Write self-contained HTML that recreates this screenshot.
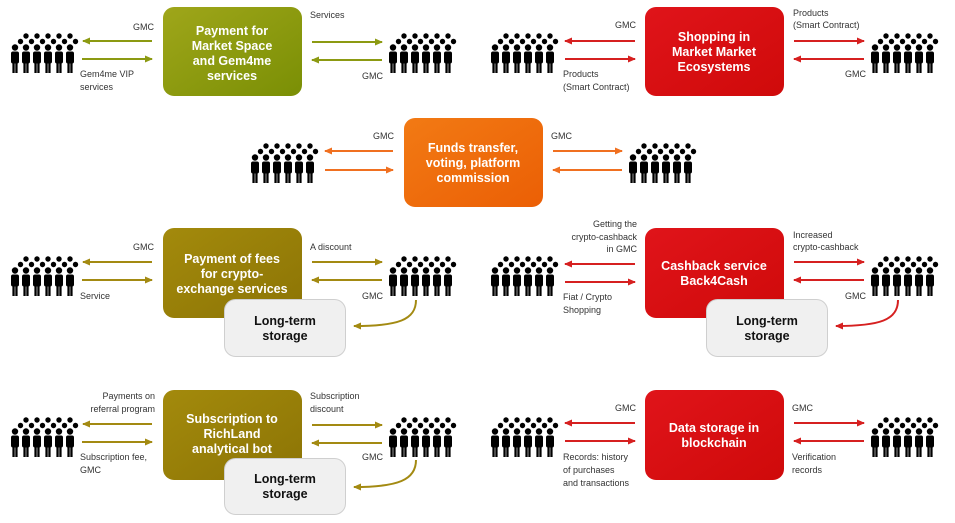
<!DOCTYPE html>
<html><head><meta charset="utf-8"><style>
html,body{margin:0;padding:0;background:#fff}
svg{display:block}
.t{font-family:"Liberation Sans",sans-serif;font-size:9px;fill:#333}
.b{font-family:"Liberation Sans",sans-serif;font-size:12.5px;font-weight:bold;fill:#fff;text-anchor:middle}
.s{font-family:"Liberation Sans",sans-serif;font-size:12.5px;font-weight:bold;fill:#111;text-anchor:middle}
</style></head><body>
<svg width="955" height="523" viewBox="0 0 955 523" xmlns="http://www.w3.org/2000/svg">
<defs>
<g id="p">
<g fill="#000">
<circle cx="16" cy="3" r="2.7"/><circle cx="27" cy="3" r="2.7"/><circle cx="38" cy="3" r="2.7"/><circle cx="49" cy="3" r="2.7"/><circle cx="60" cy="3" r="2.7"/>
<circle cx="10.5" cy="8.5" r="2.7"/><circle cx="21.5" cy="8.5" r="2.7"/><circle cx="32.5" cy="8.5" r="2.7"/><circle cx="43.5" cy="8.5" r="2.7"/><circle cx="54.5" cy="8.5" r="2.7"/><circle cx="65.5" cy="8.5" r="2.7"/>
</g>
<g id="m" fill="#000"><circle cx="5" cy="14.5" r="3.2"/><rect x="1" y="18.5" width="8" height="12" rx="2"/><rect x="2.4" y="29" width="2.3" height="11"/><rect x="5.3" y="29" width="2.3" height="11"/></g>
<use href="#m" x="11"/><use href="#m" x="22"/><use href="#m" x="33"/><use href="#m" x="44"/><use href="#m" x="55"/>
</g>
<linearGradient id="ol" x1="0" y1="0" x2="1" y2="1"><stop offset="0" stop-color="#9fa61a"/><stop offset="1" stop-color="#7a8f05"/></linearGradient>
<linearGradient id="go" x1="0" y1="0" x2="1" y2="1"><stop offset="0" stop-color="#a38a0c"/><stop offset="1" stop-color="#8c7405"/></linearGradient>
<linearGradient id="rd" x1="0" y1="0" x2="1" y2="1"><stop offset="0" stop-color="#e0141a"/><stop offset="1" stop-color="#cf0a0a"/></linearGradient>
<linearGradient id="or" x1="0" y1="0" x2="1" y2="1"><stop offset="0" stop-color="#f27a14"/><stop offset="1" stop-color="#eb5f05"/></linearGradient>
<marker id="aO" markerWidth="8" markerHeight="8" refX="7" refY="4" orient="auto" markerUnits="userSpaceOnUse"><path d="M0,0.5 L8,4 L0,7.5z" fill="#8c9a12"/></marker>
<marker id="aG" markerWidth="8" markerHeight="8" refX="7" refY="4" orient="auto" markerUnits="userSpaceOnUse"><path d="M0,0.5 L8,4 L0,7.5z" fill="#a38a12"/></marker>
<marker id="aR" markerWidth="8" markerHeight="8" refX="7" refY="4" orient="auto" markerUnits="userSpaceOnUse"><path d="M0,0.5 L8,4 L0,7.5z" fill="#d62020"/></marker>
<marker id="aY" markerWidth="8" markerHeight="8" refX="7" refY="4" orient="auto" markerUnits="userSpaceOnUse"><path d="M0,0.5 L8,4 L0,7.5z" fill="#f07020"/></marker>
</defs>

<!-- people -->
<use href="#p" x="10" y="33"/><use href="#p" x="388" y="33"/>
<use href="#p" x="490" y="33"/><use href="#p" x="870" y="33"/>
<use href="#p" x="250" y="143"/><use href="#p" x="628" y="143"/>
<use href="#p" x="10" y="256"/><use href="#p" x="388" y="256"/>
<use href="#p" x="490" y="256"/><use href="#p" x="870" y="256"/>
<use href="#p" x="10" y="417"/><use href="#p" x="388" y="417"/>
<use href="#p" x="490" y="417"/><use href="#p" x="870" y="417"/>

<!-- arrows -->
<g stroke-width="2" fill="none">
<g stroke="#8c9a12" marker-end="url(#aO)">
<line x1="152" y1="41" x2="83" y2="41"/><line x1="82" y1="59" x2="152" y2="59"/>
<line x1="312" y1="42" x2="382" y2="42"/><line x1="382" y1="60" x2="312" y2="60"/>
</g>
<g stroke="#d62020" marker-end="url(#aR)">
<line x1="635" y1="41" x2="565" y2="41"/><line x1="565" y1="59" x2="635" y2="59"/>
<line x1="794" y1="41" x2="864" y2="41"/><line x1="864" y1="59" x2="794" y2="59"/>
<line x1="635" y1="264" x2="565" y2="264"/><line x1="565" y1="282" x2="635" y2="282"/>
<line x1="794" y1="262" x2="864" y2="262"/><line x1="864" y1="280" x2="794" y2="280"/>
<path d="M898,300 C898,320 880,326 836,326"/>
<line x1="635" y1="423" x2="565" y2="423"/><line x1="565" y1="441" x2="635" y2="441"/>
<line x1="794" y1="423" x2="864" y2="423"/><line x1="864" y1="441" x2="794" y2="441"/>
</g>
<g stroke="#f07020" marker-end="url(#aY)">
<line x1="393" y1="151" x2="325" y2="151"/><line x1="325" y1="170" x2="393" y2="170"/>
<line x1="553" y1="151" x2="622" y2="151"/><line x1="622" y1="170" x2="553" y2="170"/>
</g>
<g stroke="#a38a12" marker-end="url(#aG)">
<line x1="152" y1="262" x2="83" y2="262"/><line x1="82" y1="280" x2="152" y2="280"/>
<line x1="312" y1="262" x2="382" y2="262"/><line x1="382" y1="280" x2="312" y2="280"/>
<path d="M416,300 C416,320 398,326 354,326"/>
<line x1="152" y1="424" x2="83" y2="424"/><line x1="82" y1="442" x2="152" y2="442"/>
<line x1="312" y1="425" x2="382" y2="425"/><line x1="382" y1="443" x2="312" y2="443"/>
<path d="M416,460 C416,480 398,487 354,487"/>
</g>
</g>

<!-- boxes -->
<rect x="163" y="7" width="139" height="89" rx="11" fill="url(#ol)"/>
<text class="b" y="35"><tspan x="232">Payment for</tspan><tspan x="232" dy="15">Market Space</tspan><tspan x="232" dy="15">and Gem4me</tspan><tspan x="232" dy="15">services</tspan></text>
<rect x="645" y="7" width="139" height="89" rx="11" fill="url(#rd)"/>
<text class="b" y="41"><tspan x="714">Shopping in</tspan><tspan x="714" dy="15">Market Market</tspan><tspan x="714" dy="15">Ecosystems</tspan></text>
<rect x="404" y="118" width="139" height="89" rx="11" fill="url(#or)"/>
<text class="b" y="152"><tspan x="473">Funds transfer,</tspan><tspan x="473" dy="15">voting, platform</tspan><tspan x="473" dy="15">commission</tspan></text>

<rect x="163" y="228" width="139" height="90" rx="11" fill="url(#go)"/>
<text class="b" y="263"><tspan x="232">Payment of fees</tspan><tspan x="232" dy="15">for crypto-</tspan><tspan x="232" dy="15">exchange services</tspan></text>
<rect x="224.5" y="299.5" width="121" height="57" rx="11" fill="#f0f0f0" stroke="#cfcfcf"/>
<text class="s" y="325"><tspan x="285">Long-term</tspan><tspan x="285" dy="15">storage</tspan></text>

<rect x="645" y="228" width="139" height="90" rx="11" fill="url(#rd)"/>
<text class="b" y="270"><tspan x="714">Cashback service</tspan><tspan x="714" dy="15">Back4Cash</tspan></text>
<rect x="706.5" y="299.5" width="121" height="57" rx="11" fill="#f0f0f0" stroke="#cfcfcf"/>
<text class="s" y="325"><tspan x="767">Long-term</tspan><tspan x="767" dy="15">storage</tspan></text>

<rect x="163" y="390" width="139" height="90" rx="11" fill="url(#go)"/>
<text class="b" y="423"><tspan x="232">Subscription to</tspan><tspan x="232" dy="15">RichLand</tspan><tspan x="232" dy="15">analytical bot</tspan></text>
<rect x="224.5" y="458.5" width="121" height="56" rx="11" fill="#f0f0f0" stroke="#cfcfcf"/>
<text class="s" y="483"><tspan x="285">Long-term</tspan><tspan x="285" dy="15">storage</tspan></text>

<rect x="645" y="390" width="139" height="90" rx="11" fill="url(#rd)"/>
<text class="b" y="432"><tspan x="714">Data storage in</tspan><tspan x="714" dy="15">blockchain</tspan></text>

<!-- labels -->
<g class="t">
<text x="133" y="30">GMC</text>
<text x="80" y="77">Gem4me VIP</text><text x="80" y="90">services</text>
<text x="310" y="18">Services</text>
<text x="362" y="79">GMC</text>
<text x="615" y="28">GMC</text>
<text x="563" y="77">Products</text><text x="563" y="90">(Smart Contract)</text>
<text x="793" y="16">Products</text><text x="793" y="28">(Smart Contract)</text>
<text x="845" y="77">GMC</text>
<text x="373" y="139">GMC</text>
<text x="551" y="139">GMC</text>
<text x="133" y="250">GMC</text>
<text x="80" y="299">Service</text>
<text x="310" y="250">A discount</text>
<text x="362" y="299">GMC</text>
<g text-anchor="end"><text x="637" y="227">Getting the</text><text x="637" y="240">crypto-cashback</text><text x="637" y="252">in GMC</text></g>
<text x="563" y="300">Fiat / Crypto</text><text x="563" y="313">Shopping</text>
<text x="793" y="238">Increased</text><text x="793" y="250">crypto-cashback</text>
<text x="845" y="299">GMC</text>
<g text-anchor="end"><text x="155" y="399">Payments on</text><text x="155" y="412">referral program</text></g>
<text x="80" y="460">Subscription fee,</text><text x="80" y="473">GMC</text>
<text x="310" y="399">Subscription</text><text x="310" y="412">discount</text>
<text x="362" y="460">GMC</text>
<text x="615" y="411">GMC</text>
<text x="563" y="460">Records: history</text><text x="563" y="473">of purchases</text><text x="563" y="486">and transactions</text>
<text x="792" y="411">GMC</text>
<text x="792" y="460">Verification</text><text x="792" y="473">records</text>
</g>
</svg>
</body></html>
